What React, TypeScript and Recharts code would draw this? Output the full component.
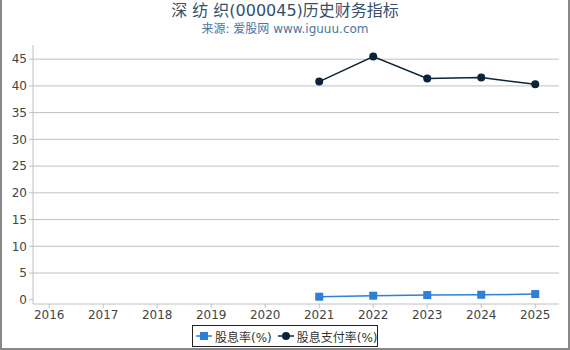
import { CartesianGrid, Line, LineChart, XAxis, YAxis } from 'recharts';

const years = [2016, 2017, 2018, 2019, 2020, 2021, 2022, 2023, 2024, 2025];
const yieldValues = [null, null, null, null, null, 0.56, 0.75, 0.87, 0.93, 1.06];
const payoutValues = [null, null, null, null, null, 40.8, 45.5, 41.4, 41.55, 40.3];
const yTicks = [0, 5, 10, 15, 20, 25, 30, 35, 40, 45];
const gridValues = [5, 10, 15, 20, 25, 30, 35, 40, 45];

const data = years.map((year, i) => ({
  year,
  yield: yieldValues[i],
  payout: payoutValues[i],
}));

const FONT = '"DejaVu Sans", "Noto Sans CJK SC", sans-serif';
const BLUE = '#2f7ed8';
const NAVY = '#0d233a';

const SquareDot = (props: any) => {
  const { cx, cy, value } = props;
  if (value == null || cx == null || cy == null) return <g key={props.key} />;
  return <rect key={props.key} x={cx - 4} y={cy - 4} width={8} height={8} fill={BLUE} />;
};

export default function App() {
  return (
    <div
      style={{
        position: 'absolute',
        left: 0,
        top: 0,
        width: 570,
        height: 350,
        fontFamily: FONT,
        background: '#fff',
      }}
    >
      <div
        style={{
          position: 'absolute',
          left: 0,
          top: 0,
          width: 566,
          height: 348,
          borderLeft: '2px solid #888',
          borderRight: '2px solid #888',
          borderBottom: '2px solid #888',
          boxSizing: 'content-box',
        }}
      />
      <div style={{ position: 'absolute', top: -3, width: 570, textAlign: 'center', fontSize: 16, color: '#34506d', whiteSpace: 'nowrap' }}>
        深 纺 织(000045)历史财务指标
      </div>
      <div style={{ position: 'absolute', top: 19, width: 570, textAlign: 'center', fontSize: 12, color: '#4d759e', whiteSpace: 'nowrap' }}>
        来源: 爱股网 www.iguuu.com
      </div>
      <LineChart
        width={570}
        height={350}
        data={data}
        margin={{ top: 45, right: 11, bottom: 26, left: 0 }}
        style={{ position: 'absolute', left: 0, top: 0 }}
      >
        <CartesianGrid horizontal vertical={false} stroke="#c0c0c0" horizontalValues={gridValues} />
        <XAxis
          dataKey="year"
          type="number"
          domain={[2015.7, 2025.44]}
          ticks={years}
          allowDataOverflow
          height={20}
          tickSize={4}
          tickMargin={2}
          stroke="#c0c0c0"
          tick={{ fontSize: 12, fill: '#444', fontFamily: FONT }}
        />
        <YAxis
          domain={[-0.8, 47.65]}
          ticks={yTicks}
          allowDataOverflow
          width={33}
          tickSize={4}
          tickMargin={2}
          stroke="#c0c0c0"
          tick={{ fontSize: 12, fill: '#444', fontFamily: FONT }}
        />
        <Line
          dataKey="yield"
          stroke={BLUE}
          strokeWidth={1.5}
          dot={SquareDot}
          isAnimationActive={false}
        />
        <Line
          dataKey="payout"
          stroke={NAVY}
          strokeWidth={1.5}
          dot={{ r: 4, fill: NAVY, stroke: NAVY, strokeWidth: 0 }}
          isAnimationActive={false}
        />
      </LineChart>
      <div
        style={{
          position: 'absolute',
          left: 192,
          top: 325,
          width: 186,
          height: 22,
          border: '1px solid #222',
          display: 'flex',
          alignItems: 'center',
          fontSize: 12,
          color: '#333',
          boxSizing: 'border-box',
          whiteSpace: 'nowrap',
        }}
      >
        <svg width={16} height={10} style={{ marginLeft: 3, flexShrink: 0 }}>
          <line x1={0} y1={5} x2={16} y2={5} stroke={BLUE} strokeWidth={1.5} />
          <rect x={4} y={1} width={8} height={8} fill={BLUE} />
        </svg>
        <span style={{ marginLeft: 3 }}>股息率(%)</span>
        <svg width={16} height={10} style={{ marginLeft: 6, flexShrink: 0 }}>
          <line x1={0} y1={5} x2={16} y2={5} stroke={NAVY} strokeWidth={1.5} />
          <circle cx={8} cy={5} r={4} fill={NAVY} />
        </svg>
        <span style={{ marginLeft: 3 }}>股息支付率(%)</span>
      </div>
    </div>
  );
}
